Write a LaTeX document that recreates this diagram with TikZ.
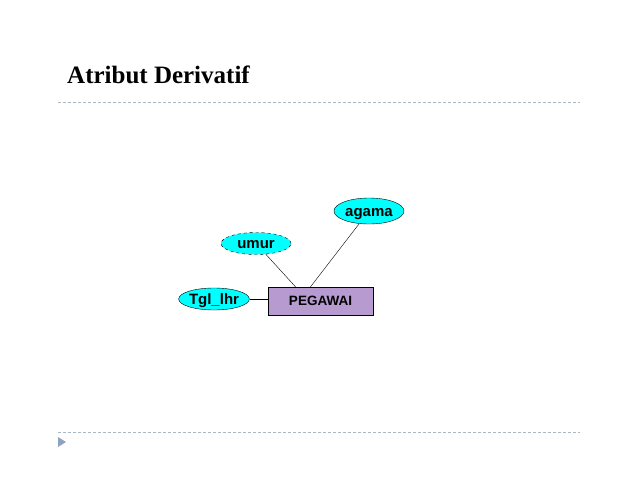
\documentclass[tikz,border=0pt]{standalone}
\usepackage{fontspec}
\setmainfont{Liberation Serif}
\setsansfont{Liberation Sans}
\usepackage{tikz}
\usepackage{xcolor}
\usetikzlibrary{shapes.geometric}
\definecolor{attrcyan}{HTML}{00FFFF}
\definecolor{entlila}{HTML}{B69AD0}
\definecolor{ruleblue}{HTML}{A9B8C6}
\definecolor{markblue}{HTML}{8DA3C0}

\begin{document}
\begin{tikzpicture}[x=1pt,y=-1pt,
  attr/.style={ellipse,draw,fill=attrcyan,inner sep=0pt,minimum width=70pt,
    text height=11pt,text depth=1pt,
    font=\sffamily\bfseries\fontsize{15}{15}\selectfont},
  entity/.style={rectangle,draw,fill=entlila,minimum width=105pt,minimum height=28pt,
    inner sep=0pt,font=\sffamily\bfseries\fontsize{13.5}{13.5}\selectfont}]
  \useasboundingbox (0,0) rectangle (638,493);
  \node[anchor=base west,inner sep=0pt,font=\bfseries\fontsize{25}{25}\selectfont] (title) at (67,83) {Atribut Derivatif};
  \draw[ruleblue,dashed,dash pattern=on 3pt off 2pt] (58,102) -- (580,102);
  \draw[ruleblue,dashed,dash pattern=on 3pt off 2pt] (58,432) -- (580,432);
  \fill[markblue] (58,437) -- (66,442) -- (58,447) -- cycle;

  \node[entity] (pegawai) at (320.5,301) {PEGAWAI};
  \node[attr,minimum height=26pt] (agama) at (369,211) {agama};
  \node[attr,dashed,minimum height=22pt] (umur) at (256,243.5) {umur};
  \node[attr,minimum height=22pt] (tgl) at (214,299) {Tgl\_lhr};

  \draw (tgl) -- (pegawai.west |- tgl);
  \draw (umur) -- ([xshift=-25pt]pegawai.north);
  \draw (agama) -- ([xshift=-10pt]pegawai.north);
\end{tikzpicture}
\end{document}
